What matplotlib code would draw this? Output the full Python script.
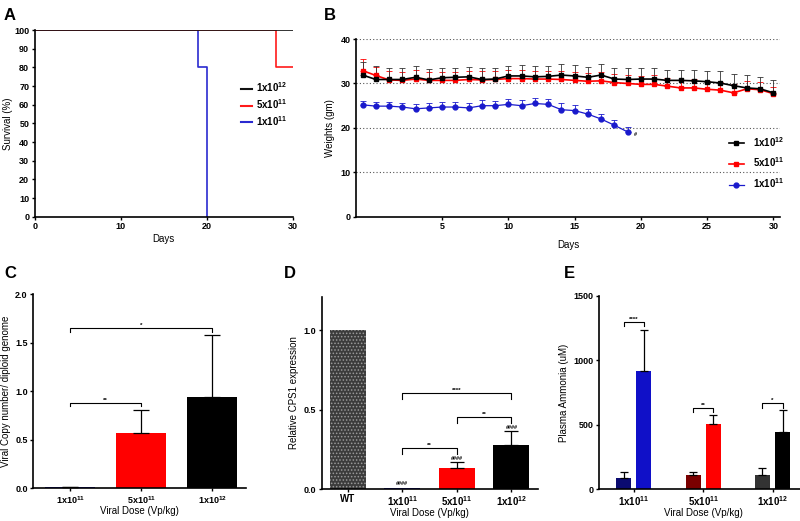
import matplotlib.pyplot as plt
from matplotlib.lines import Line2D
import numpy as np

plt.rcParams['font.family'] = ['Liberation Sans', 'DejaVu Sans']
plt.rcParams['font.weight'] = 'bold'
plt.rcParams['mathtext.default'] = 'regular'
plt.rcParams['axes.linewidth'] = 1.2
plt.rcParams['xtick.major.width'] = 1.0
plt.rcParams['ytick.major.width'] = 1.0
plt.rcParams['xtick.major.size'] = 2.5
plt.rcParams['ytick.major.size'] = 2.5
plt.rcParams['hatch.linewidth'] = 0.7

dose_labels = ["1x10$^{12}$", "5x10$^{11}$", "1x10$^{11}$"]

# A: survival (step curves)
surv_days_12 = [0, 30]
surv_12 = [100, 100]
surv_days_5e11 = [0, 28, 30]
surv_5e11 = [100, 80, 80]
surv_days_1e11 = [0, 19, 20]
surv_1e11 = [100, 80, 0]

# B: body weights
days = np.arange(-1, 31)
days_1e11 = np.arange(-1, 20)
w_12 = [31.9, 30.9, 30.9, 30.9, 31.4, 30.8, 31.3, 31.4, 31.5, 30.9, 31.0, 31.7,
        31.7, 31.5, 31.6, 31.9, 31.7, 31.4, 31.9, 31.0, 30.9, 31.0, 31.0, 30.7,
        30.7, 30.6, 30.4, 30.1, 29.5, 29.0, 28.8, 27.9]
w_12_err = [2.9, 3.0, 2.6, 2.5, 2.5, 2.4, 2.2, 2.2, 2.3, 2.5, 2.4, 2.3, 2.5, 2.4,
            2.3, 2.6, 2.5, 2.4, 2.4, 2.6, 2.5, 2.4, 2.4, 2.3, 2.4, 2.4, 2.5, 2.6,
            2.7, 2.8, 2.7, 2.9]
w_5e11 = [32.9, 31.8, 30.8, 30.7, 31.0, 30.7, 30.7, 30.7, 30.9, 30.8, 30.9, 31.1,
          31.1, 31.0, 31.0, 30.9, 30.7, 30.5, 30.6, 30.2, 30.0, 29.8, 29.8, 29.4,
          29.0, 29.0, 28.7, 28.5, 27.9, 28.8, 28.6, 27.7]
w_5e11_err = [2.6, 2.0, 1.9, 1.9, 2.0, 1.8, 1.9, 1.9, 2.0, 1.9, 1.9, 2.0, 2.0, 1.9,
              1.9, 2.0, 1.9, 1.9, 2.0, 1.9, 1.9, 1.9, 2.0, 1.9, 1.8, 1.9, 1.9, 1.9,
              2.0, 1.8, 1.8, 1.5]
w_1e11 = [25.2, 24.9, 24.9, 24.7, 24.3, 24.5, 24.7, 24.7, 24.5, 25.0, 25.0, 25.3,
          25.0, 25.5, 25.3, 24.1, 23.9, 23.1, 22.0, 20.6, 19.1]
w_1e11_err = [0.9, 1.0, 1.0, 1.0, 1.1, 1.1, 1.1, 1.2, 1.1, 1.2, 1.1, 1.2, 1.2, 1.2,
              1.1, 1.4, 1.3, 1.1, 1.1, 1.2, 1.0]

# C: viral copy number
c_labels = ["1x10$^{11}$", "5x10$^{11}$", "1x10$^{12}$"]
c_values = [0.01, 0.57, 0.94]
c_err = [0.0, 0.24, 0.64]
c_colors = ['#1a1acc', '#ff0000', '#000000']

# D: relative CPS1 expression
d_labels = ["WT", "1x10$^{11}$", "5x10$^{11}$", "1x10$^{12}$"]
d_values = [1.0, 0.01, 0.133, 0.28]
d_err = [0.0, 0.0, 0.035, 0.085]
d_marks = ["", "####", "####", "####"]

# E: plasma ammonia, baseline vs post
e_labels = ["1x10$^{11}$", "5x10$^{11}$", "1x10$^{12}$"]
e_pre = [89, 114, 110]
e_pre_err = [46, 21, 55]
e_post = [913, 502, 444]
e_post_err = [318, 75, 168]
e_pre_colors = ['#0b0b70', '#7a0000', '#333333']
e_post_colors = ['#1010c8', '#ff0000', '#000000']

TICK = 6.5
LAB = 7


def style(ax):
    ax.spines['top'].set_visible(False)
    ax.spines['right'].set_visible(False)
    ax.tick_params(labelsize=TICK, pad=1.5)


def bracket(ax, x1, x2, y, h, label, fs=4.5):
    ax.plot([x1, x1, x2, x2], [y - h, y, y, y - h], color='black', lw=0.8)
    ax.text((x1 + x2) / 2, y, label, ha='center', va='bottom', fontsize=fs)


fig = plt.figure(figsize=(8, 5.21), dpi=100)

# ---- A ----
ax = fig.add_axes([0.0434, 0.584, 0.3225, 0.3584])
ax.step(surv_days_1e11, surv_1e11, where='post', color='#2a2ad0', lw=1.2)
ax.step(surv_days_5e11, surv_5e11, where='post', color='#ff1a1a', lw=1.2)
ax.step(surv_days_12, surv_12, where='post', color='#111111', lw=1.2)
ax.set_xlim(0, 30)
ax.set_ylim(0, 100)
ax.set_xticks([0, 10, 20, 30])
ax.set_yticks(np.arange(0, 101, 10))
ax.set_xlabel("Days", fontsize=LAB, labelpad=2)
ax.set_ylabel("Survival (%)", fontsize=LAB, labelpad=1)
style(ax)
handles = [Line2D([], [], color=c, lw=1.5) for c in ['#111111', '#ff1a1a', '#2a2ad0']]
ax.legend(handles, dose_labels, loc='upper left', bbox_to_anchor=(0.8, 0.73), frameon=False,
          fontsize=7, handlelength=1.1, handletextpad=0.4, labelspacing=0.3,
          borderaxespad=0, borderpad=0)

# ---- B ----
ax = fig.add_axes([0.445, 0.584, 0.53, 0.341])
for yy in [10, 20, 30, 40]:
    ax.axhline(yy, color='#555555', lw=0.8, ls=(0, (1, 2)), zorder=0)
ax.errorbar(days_1e11, w_1e11, yerr=[np.zeros(len(w_1e11_err)), w_1e11_err], color='#1a1acc',
            marker='o', ms=3.5, lw=0.9, capsize=2, elinewidth=0.6, capthick=0.6)
ax.errorbar(days, w_5e11, yerr=[np.zeros(len(w_5e11_err)), w_5e11_err], color='#ff0000',
            marker='s', ms=2.5, lw=1.2, capsize=2, elinewidth=0.6, capthick=0.6)
ax.errorbar(days, w_12, yerr=[np.zeros(len(w_12_err)), w_12_err], color='#000000',
            marker='s', ms=3.5, lw=1.2, capsize=2, elinewidth=0.6, capthick=0.6,
            ecolor='#333333')
ax.text(days_1e11[-1] + 0.5, w_1e11[-1] - 0.6, "#", fontsize=4, ha='left', va='center')
ax.set_xlim(-1.5, 30.5)
ax.set_ylim(0, 40)
ax.set_xticks([5, 10, 15, 20, 25, 30])
ax.set_yticks([0, 10, 20, 30, 40])
ax.set_xlabel("Days", fontsize=LAB, fontweight='normal', labelpad=6)
ax.set_ylabel("Weights (gm)", fontsize=LAB, labelpad=4)
style(ax)
handles = [Line2D([], [], color='#000000', marker='s', ms=3.5, lw=1.2),
           Line2D([], [], color='#ff0000', marker='s', ms=2.5, lw=1.2),
           Line2D([], [], color='#1a1acc', marker='o', ms=3.5, lw=0.9)]
ax.legend(handles, dose_labels, loc='upper left', bbox_to_anchor=(0.88, 0.46), frameon=False,
          fontsize=7, handlelength=1.5, handletextpad=1.0, labelspacing=0.7,
          borderaxespad=0, borderpad=0)

# ---- C ----
ax = fig.add_axes([0.0416, 0.0625, 0.266, 0.3726])
xc = np.arange(len(c_values))
ax.bar(xc, c_values, width=0.7, color=c_colors)
ax.errorbar(xc, c_values, yerr=[np.zeros(len(c_err)), c_err], fmt='none', ecolor='black',
            elinewidth=0.9, capsize=6, capthick=0.9)
bracket(ax, 0, 1, 0.885, 0.04, "**")
bracket(ax, 0, 2, 1.655, 0.04, "*")
ax.set_xlim(-0.52, 2.48)
ax.set_ylim(0, 2.0)
ax.set_xticks(xc)
ax.set_xticklabels(c_labels)
ax.set_yticks([0, 0.5, 1.0, 1.5, 2.0])
ax.set_yticklabels(["0.0", "0.5", "1.0", "1.5", "2.0"])
ax.set_xlabel("Viral Dose (Vp/kg)", fontsize=LAB, labelpad=0)
ax.set_ylabel("Viral Copy number/ diploid genome", fontsize=LAB, labelpad=3)
style(ax)

# ---- D ----
ax = fig.add_axes([0.402, 0.0610, 0.270, 0.3695])
xd = np.arange(len(d_values))
bars = ax.bar(xd, d_values, width=0.66, color=['#3c3c3c', '#1a1acc', '#ff0000', '#000000'],
              linewidth=0)
bars[0].set_hatch('.....')
bars[0].set_edgecolor('#9a9a9a')
ax.errorbar(xd[2:], d_values[2:], yerr=[np.zeros(2), d_err[2:]], fmt='none', ecolor='black',
            elinewidth=0.9, capsize=5, capthick=0.9)
for i in range(1, len(d_values)):
    ax.text(xd[i], d_values[i] + d_err[i] + 0.01, d_marks[i], ha='center', va='bottom',
            fontsize=4)
bracket(ax, 1, 2, 0.257, 0.035, "**")
bracket(ax, 2, 3, 0.452, 0.035, "**")
bracket(ax, 1, 3, 0.605, 0.035, "****")
ax.set_xlim(-0.48, 3.48)
ax.set_ylim(0, 1.21)
ax.set_xticks(xd)
ax.set_xticklabels(d_labels)
ax.set_yticks([0, 0.5, 1.0])
ax.set_yticklabels(["0.0", "0.5", "1.0"])
ax.set_xlabel("Viral Dose (Vp/kg)", fontsize=LAB, labelpad=0)
ax.set_ylabel("Relative CPS1 expression", fontsize=LAB, labelpad=3)
style(ax)
ax.tick_params(axis='x', labelsize=7, pad=1)

# ---- E ----
ax = fig.add_axes([0.749, 0.0610, 0.26, 0.3713])
xe = np.arange(len(e_pre))
off = 0.145
ax.bar(xe - off, e_pre, width=0.215, color=e_pre_colors)
ax.bar(xe + off, e_post, width=0.215, color=e_post_colors)
ax.errorbar(xe - off, e_pre, yerr=[np.zeros(3), e_pre_err], fmt='none', ecolor='black',
            elinewidth=0.9, capsize=3, capthick=0.9)
ax.errorbar(xe + off, e_post, yerr=[np.zeros(3), e_post_err], fmt='none', ecolor='black',
            elinewidth=0.9, capsize=3, capthick=0.9)
bracket(ax, -off, off, 1300, 35, "****")
bracket(ax, 1 - off, 1 + off, 630, 35, "**")
bracket(ax, 2 - off, 2 + off, 667, 35, "*")
ax.set_xlim(-0.5, 2.5)
ax.set_ylim(0, 1500)
ax.set_xticks(xe)
ax.set_xticklabels(e_labels)
ax.set_yticks([0, 500, 1000, 1500])
ax.set_xlabel("Viral Dose (Vp/kg)", fontsize=LAB, labelpad=0)
ax.set_ylabel("Plasma Ammonia (uM)", fontsize=LAB, labelpad=3)
style(ax)
ax.tick_params(axis='x', labelsize=7, pad=1)

# panel letters
for letter, x, y in [("A", 0.005, 0.985), ("B", 0.405, 0.985), ("C", 0.005, 0.49),
                     ("D", 0.355, 0.49), ("E", 0.705, 0.49)]:
    fig.text(x, y, letter, fontsize=12, fontweight='bold', va='top', ha='left')

fig.savefig("out.png", dpi=100)
